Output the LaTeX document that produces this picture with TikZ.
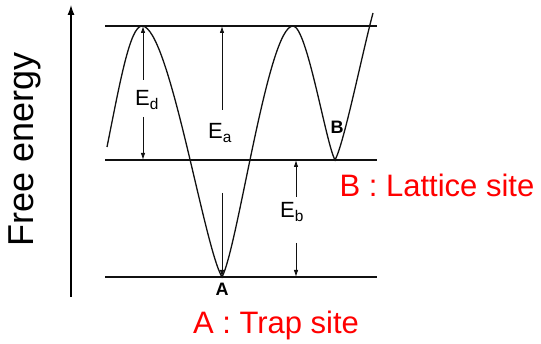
\documentclass[tikz,border=0pt]{standalone}
\usepackage{fontspec}
\setmainfont{Liberation Sans}
\usetikzlibrary{arrows.meta, positioning, calc}
\definecolor{siteRed}{HTML}{FF0000}
\definecolor{curveDark}{HTML}{111111}

\begin{document}
\begin{tikzpicture}[x=1pt, y=1pt,
  level/.style={line width=1.3pt, curveDark},
  gap/.style={line width=0.9pt, curveDark, -{Latex[length=7pt,width=4.5pt]}},
  elabel/.style={font=\fontsize{22}{22}\selectfont, inner sep=0pt},
  sitetag/.style={font=\fontsize{18}{18}\selectfont\bfseries, inner sep=0pt},
  sitename/.style={font=\fontsize{31}{31}\selectfont, text=siteRed, inner sep=0pt}]
  \useasboundingbox (0,0) rectangle (541,344);

  % Energy axis
  \coordinate (axbot) at (71,47);
  \coordinate (axtop) at (71,339);
  \draw[line width=1.3pt, -{Latex[length=10pt,width=7pt]}] (axbot) -- (axtop);
  \node[font=\fontsize{36}{36}\selectfont, rotate=90] (axlabel) at (25,195) {Free energy};

  % Energy levels
  \foreach \name/\y in {top/318, mid/184, bot/67} {
    \coordinate (\name L) at (105,\y);
    \coordinate (\name R) at (377,\y);
    \draw[level] (\name L) -- (\name R);
  }

  % Free energy curve
  \coordinate (start) at (107,197);
  \coordinate (peakOne) at (142,318);
  \coordinate (trapA) at (222,67);
  \coordinate (peakTwo) at (293,318);
  \coordinate (latticeB) at (335,184);
  \coordinate (finish) at (373,331);
  \draw[line width=1.3pt, curveDark]
    (start) .. controls (120,262) and (130,318) .. (peakOne)
            .. controls (169,318) and (204,97) .. (trapA)
            .. controls (238,97) and (268,318) .. (peakTwo)
            .. controls (307,318) and (326,200) .. (latticeB)
            .. controls (344,200) and (362,290) .. (finish);

  % Site letters
  \node[sitetag] (siteA) at (222,55) {A};
  \node[sitetag] (siteB) at (337,217) {B};

  % Activation gaps
  \node[elabel] (Ed) at (147,244) {E\textsubscript{d}};
  \node[elabel] (Ea) at (220,211) {E\textsubscript{a}};
  \node[elabel] (Eb) at (292,132) {E\textsubscript{b}};

  \coordinate (EdUp) at (143,264);  \coordinate (EdTop) at (143,318);
  \coordinate (EdDn) at (143,227);  \coordinate (EdBot) at (143,184);
  \coordinate (EaUp) at (222,234);  \coordinate (EaTop) at (222,318);
  \coordinate (EaDn) at (222,151);  \coordinate (EaBot) at (222,67);
  \coordinate (EbUp) at (296,147);  \coordinate (EbTop) at (296,184);
  \coordinate (EbDn) at (296,101);  \coordinate (EbBot) at (296,67);

  \draw[gap] (EdUp) -- (EdTop);
  \draw[gap] (EdDn) -- (EdBot);
  \draw[gap] (EaUp) -- (EaTop);
  \draw[gap] (EaDn) -- (EaBot);
  \draw[gap] (EbUp) -- (EbTop);
  \draw[gap] (EbDn) -- (EbBot);

  % Site names
  \node[sitename] (latticeName) at (437,159) {B : Lattice site};
  \node[sitename] (trapName) at (276,19) {A : Trap site};
\end{tikzpicture}
\end{document}
